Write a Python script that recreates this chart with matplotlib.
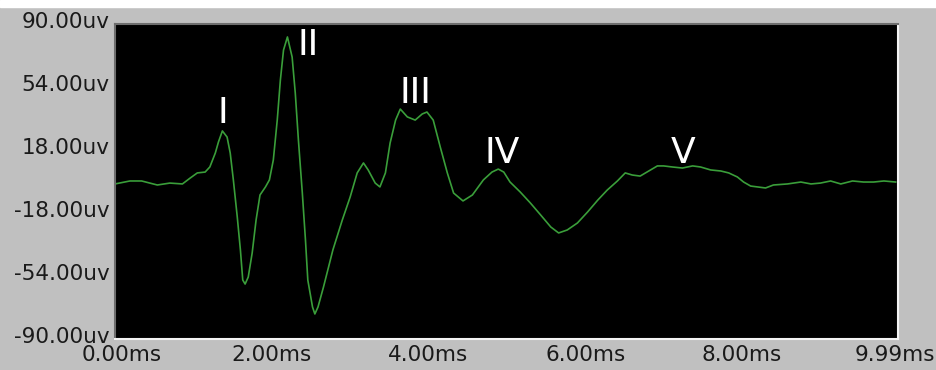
import matplotlib.pyplot as plt
import matplotlib.patches as patches
from matplotlib.transforms import ScaledTranslation

# waveform (time in ms, amplitude in uV)
t_ms = [0.00, 0.19, 0.34, 0.54, 0.70, 0.86, 0.96, 1.05, 1.15, 1.21, 1.28, 1.32,
        1.37, 1.43, 1.47, 1.51, 1.56, 1.60, 1.63, 1.66, 1.70, 1.75, 1.80, 1.85,
        1.92, 1.97, 2.02, 2.07, 2.11, 2.15, 2.20, 2.26, 2.30, 2.34, 2.39, 2.43,
        2.46, 2.52, 2.55, 2.59, 2.66, 2.78, 2.90, 3.00, 3.09, 3.17, 3.23, 3.32,
        3.38, 3.45, 3.51, 3.58, 3.64, 3.73, 3.83, 3.92, 3.98, 4.06, 4.15, 4.24,
        4.32, 4.44, 4.56, 4.70, 4.81, 4.89, 4.96, 5.04, 5.17, 5.30, 5.43, 5.56,
        5.66, 5.77, 5.90, 6.03, 6.16, 6.28, 6.41, 6.51, 6.60, 6.70, 6.81, 6.92,
        7.00, 7.11, 7.24, 7.37, 7.47, 7.60, 7.73, 7.83, 7.94, 8.02, 8.11, 8.30,
        8.40, 8.58, 8.75, 8.88, 9.00, 9.13, 9.26, 9.41, 9.55, 9.68, 9.81, 9.96]
amp_uv = [-1.4, 0.3, 0.3, -2.0, -0.9, -1.4, 2.0, 4.9, 5.4, 8.3, 16.3, 22.6,
          28.9, 25.4, 16.3, 0.9, -20.3, -39.1, -56.3, -58.6, -54.6, -40.9, -22.0, -7.7,
          -3.1, 0.9, 12.3, 35.1, 58.0, 75.1, 82.6, 71.1, 50.6, 23.7, -6.6, -33.4,
          -56.3, -71.7, -75.7, -71.7, -60.3, -39.1, -22.0, -8.9, 4.9, 10.6, 6.6, -0.9,
          -3.1, 4.9, 22.0, 35.1, 41.4, 36.9, 35.1, 38.6, 39.7, 35.1, 19.7, 4.9,
          -6.6, -11.1, -7.7, 0.9, 5.4, 7.1, 5.4, -0.3, -6.0, -12.3, -19.1, -26.0,
          -29.4, -27.7, -23.7, -17.4, -10.6, -4.9, 0.3, 4.9, 3.7, 3.1, 6.0, 8.9,
          8.9, 8.3, 7.7, 8.9, 8.3, 6.6, 6.0, 4.9, 2.6, -0.3, -2.6, -3.7,
          -2.0, -1.4, -0.3, -1.4, -0.9, 0.3, -1.4, 0.3, -0.3, -0.3, 0.3, -0.3]

# wave labels
peak_names = ["I", "II", "III", "IV", "V"]
peak_x = [1.378, 2.462, 3.827, 4.938, 7.247]
peak_y = [33.4, 72.3, 44.9, 10.6, 10.6]

y_ticks = [90, 54, 18, -18, -54, -90]
y_labels = ["90.00uv", "54.00uv", "18.00uv", "-18.00uv", "-54.00uv", "-90.00uv"]
x_ticks = [0, 2, 4, 6, 8, 9.99]
x_labels = ["0.00ms", "2.00ms", "4.00ms", "6.00ms", "8.00ms", "9.99ms"]

fig = plt.figure(figsize=(9.37, 3.70), dpi=100, facecolor="#c0c0c0")
# white strip along the top of the window
fig.patches.append(patches.Rectangle((0, 1 - 7 / 370), 1, 7 / 370,
                                     transform=fig.transFigure, color="white", zorder=0))

ax = fig.add_axes([115 / 937, 1 - 339 / 370, 783 / 937, 315 / 370])
ax.set_facecolor("black")
ax.plot(t_ms, amp_uv, color="#3a9e3a", linewidth=1.2)

for name, x, y in zip(peak_names, peak_x, peak_y):
    ax.text(x, y, name, color="white", fontsize=26, ha="center", va="baseline")

ax.set_xlim(0, 9.99)
ax.set_ylim(-90, 90)
ax.set_yticks(y_ticks)
ax.set_yticklabels(y_labels)
ax.set_xticks(x_ticks)
ax.set_xticklabels(x_labels)
ax.tick_params(length=0, labelsize=15.5, colors="#1a1a1a", pad=4)

# nudge labels a bit like the original screen
up = ScaledTranslation(0, 3 / 72, fig.dpi_scale_trans)
for lab in ax.get_yticklabels():
    lab.set_transform(lab.get_transform() + up)
xl = ax.get_xticklabels()
xl[0].set_transform(xl[0].get_transform() + ScaledTranslation(7 / 100, 0, fig.dpi_scale_trans))
xl[-1].set_transform(xl[-1].get_transform() + ScaledTranslation(-3 / 100, 0, fig.dpi_scale_trans))

# sunken 3D border
for side in ["top", "left"]:
    ax.spines[side].set_color("#6e6e6e")
    ax.spines[side].set_linewidth(1.5)
for side in ["right", "bottom"]:
    ax.spines[side].set_color("#f4f4f4")
    ax.spines[side].set_linewidth(1.5)

plt.savefig("out.png", dpi=100, facecolor=fig.get_facecolor())
